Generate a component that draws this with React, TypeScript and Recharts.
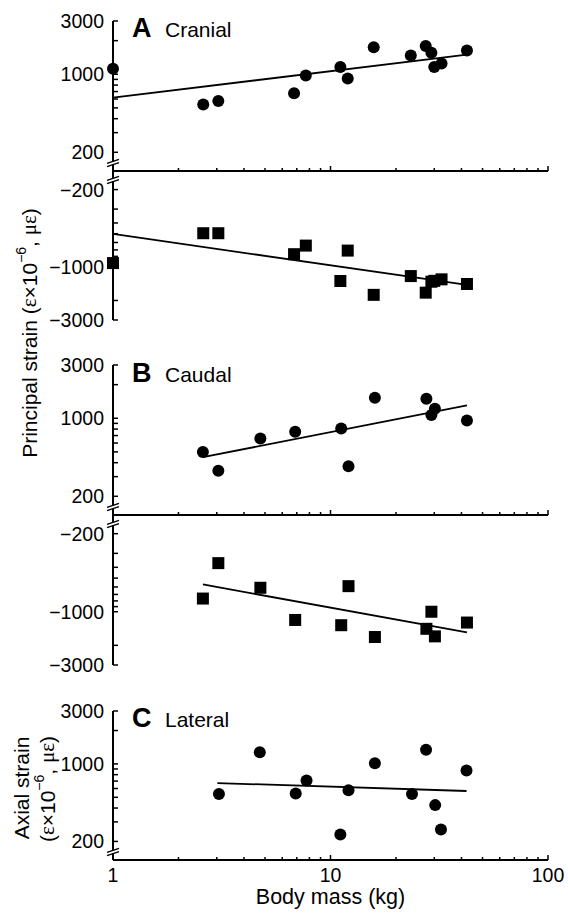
import React from "react";
import { ComposedChart, Line, Scatter, XAxis, YAxis } from "recharts";

// body mass (kg) of each animal, by recording site
const cranialMass = [1, 2.6, 3.05, 6.8, 7.7, 11.1, 12.0, 15.8, 23.4, 27.4, 29.1, 30.0, 32.4, 42.4];
const caudalMass = [2.59, 3.05, 4.76, 6.88, 11.2, 12.1, 16.0, 27.6, 29.1, 30.2, 42.4];
const lateralMass = [3.07, 4.73, 6.92, 7.76, 11.1, 12.1, 16.0, 23.7, 27.5, 30.3, 32.2, 42.2];

// principal strains (µε); compressive values are negative
const cranialTension = [1120, 535, 575, 675, 975, 1160, 915, 1750, 1470, 1790, 1555, 1160, 1250, 1630];
const cranialCompression = [-920, -495, -495, -765, -640, -1335, -710, -1780, -1205, -1700, -1355, -1330, -1290, -1420];
const caudalTension = [499, 339, 660, 756, 810, 372, 1525, 1495, 1071, 1218, 953];
const caudalCompression = [-762, -367, -610, -1185, -1320, -590, -1684, -1422, -1000, -1662, -1250];
// axial strain, lateral site
const lateralStrain = [536, 1271, 540, 710, 231, 578, 1014, 536, 1342, 425, 256, 872];

// regression lines, read at their two ends
const cranialFitMass = [1, 42.4];
const cranialTensionFit = [618, 1500];
const cranialCompressionFit = [-502, -1450];
const caudalFitMass = [2.59, 42.4];
const caudalTensionFit = [448, 1304];
const caudalCompressionFit = [-570, -1532];
const lateralFitMass = [3.02, 42.2];
const lateralFit = [672, 570];

// axis ticks
const massTicks = [1, 2, 3, 4, 5, 6, 7, 8, 9, 10, 20, 30, 40, 50, 60, 70, 80, 90, 100];
const massLabels = [1, 10, 100];
const strainTicks = [200, 300, 400, 500, 600, 700, 800, 900, 1000, 2000, 3000];
const strainLabels = [200, 1000, 3000];

const FONT = '"Liberation Sans", Arial, Helvetica, sans-serif';
const SERIF = '"Liberation Serif", "Times New Roman", serif';
const W = 568;
const X_LEFT = 113;
const X_RIGHT = 548;
const PAD = 12;
// value where the broken axis meets the x axis
const STRAIN_MIN = 136;
const STRAIN_MAX = 3000;

const toPoints = (xs: number[], ys: number[]) =>
  xs.map((x, i) => ({ x, y: Math.abs(ys[i]) }));

function AxisBreak({ x, y }: { x: number; y: number }) {
  // the "//" mark on the y axis
  return (
    <g>
      <polygon
        points={`${x - 6},${y + 3.6} ${x + 6},${y - 0.4} ${x + 6},${y - 3.6} ${x - 6},${y + 0.4}`}
        fill="#fff"
      />
      <line x1={x - 6} y1={y + 3.6} x2={x + 6} y2={y - 0.4} stroke="#000" strokeWidth={1.4} />
      <line x1={x - 6} y1={y + 0.4} x2={x + 6} y2={y - 3.6} stroke="#000" strokeWidth={1.4} />
    </g>
  );
}

function StrainTick(props: any) {
  const { x, y, payload, compressive } = props;
  const v = payload.value;
  if (v === STRAIN_MIN) {
    return <AxisBreak x={x} y={compressive ? y + 9 : y - 8} />;
  }
  return (
    <g>
      <line x1={x} x2={x + 5} y1={y} y2={y} stroke="#000" strokeWidth={1.5} />
      {strainLabels.includes(v) && (
        <text x={x - 9} y={y} dy="0.36em" textAnchor="end" fontSize={19.5} fill="#000">
          {compressive ? `\u2212${v}` : v}
        </text>
      )}
    </g>
  );
}

function MassTick(props: any) {
  const { x, y, payload, showLabel } = props;
  const v = payload.value;
  const major = massLabels.includes(v);
  return (
    <g>
      <line x1={x} x2={x} y1={y} y2={y - (major ? 5 : 3)} stroke="#000" strokeWidth={1.5} />
      {showLabel && major && (
        <text x={x} y={y + 22} textAnchor="middle" fontSize={19.5} fill="#000">
          {v}
        </text>
      )}
    </g>
  );
}

const Dot = (p: any) => <circle cx={p.cx} cy={p.cy} r={6} fill="#000" />;
const Square = (p: any) => (
  <rect x={p.cx - 6} y={p.cy - 6} width={12} height={12} fill="#000" />
);

interface PanelProps {
  top: number;
  plotHeight: number;
  mass: number[];
  strain: number[];
  fitMass: number[];
  fit: number[];
  compressive?: boolean;
  showAxis?: boolean;
  showMassLabels?: boolean;
  bottom: number;
}

function Panel({
  top,
  plotHeight,
  mass,
  strain,
  fitMass,
  fit,
  compressive = false,
  showAxis = false,
  showMassLabels = false,
  bottom,
}: PanelProps) {
  const points = toPoints(mass, strain);
  const fitLine = toPoints(fitMass, fit);
  return (
    <div style={{ position: "absolute", left: 0, top: top - PAD }}>
      <ComposedChart
        width={W}
        height={PAD + plotHeight + bottom}
        margin={{ top: PAD, right: W - X_RIGHT, left: 0, bottom: showAxis ? 0 : bottom }}
      >
        <XAxis
          dataKey="x"
          type="number"
          scale="log"
          domain={[1, 100]}
          ticks={massTicks}
          interval={0}
          hide={!showAxis}
          height={bottom}
          axisLine={{ stroke: "#000", strokeWidth: 2 }}
          tickLine={false}
          tickSize={0}
          tickMargin={0}
          tick={(p: any) => <MassTick {...p} showLabel={showMassLabels} />}
          label={
            showMassLabels
              ? { value: "Body mass (kg)", position: "insideBottom", offset: 8, fontSize: 21.5, fill: "#000" }
              : undefined
          }
        />
        <YAxis
          dataKey="y"
          type="number"
          scale="log"
          domain={[STRAIN_MIN, STRAIN_MAX]}
          ticks={[STRAIN_MIN, ...strainTicks]}
          interval={0}
          reversed={compressive}
          width={X_LEFT}
          axisLine={{ stroke: "#000", strokeWidth: 2 }}
          tickLine={false}
          tickSize={0}
          tickMargin={0}
          tick={(p: any) => <StrainTick {...p} compressive={compressive} />}
        />
        <Line
          data={fitLine}
          dataKey="y"
          type="linear"
          stroke="#000"
          strokeWidth={1.8}
          dot={false}
          activeDot={false}
          isAnimationActive={false}
        />
        <Scatter
          data={points}
          dataKey="y"
          shape={compressive ? Square : Dot}
          fill="#000"
          isAnimationActive={false}
        />
      </ComposedChart>
    </div>
  );
}

export default function App() {
  return (
    <div
      style={{
        position: "absolute",
        left: 0,
        top: 0,
        width: W,
        height: 913,
        background: "#fff",
        fontFamily: FONT,
      }}
    >
      <Panel top={21} plotHeight={150} mass={cranialMass} strain={cranialTension}
        fitMass={cranialFitMass} fit={cranialTensionFit} showAxis bottom={8} />
      <Panel top={171} plotHeight={149} mass={cranialMass} strain={cranialCompression}
        fitMass={cranialFitMass} fit={cranialCompressionFit} compressive bottom={16} />
      <Panel top={365} plotHeight={150} mass={caudalMass} strain={caudalTension}
        fitMass={caudalFitMass} fit={caudalTensionFit} showAxis bottom={8} />
      <Panel top={515} plotHeight={150} mass={caudalMass} strain={caudalCompression}
        fitMass={caudalFitMass} fit={caudalCompressionFit} compressive bottom={16} />
      <Panel top={711} plotHeight={149} mass={lateralMass} strain={lateralStrain}
        fitMass={lateralFitMass} fit={lateralFit} showAxis showMassLabels bottom={52} />

      <svg
        width={W}
        height={913}
        style={{ position: "absolute", left: 0, top: 0, pointerEvents: "none" }}
      >
        <text x={132} y={37} fontSize={27} fontWeight="bold">A</text>
        <text x={165} y={37} fontSize={21}>Cranial</text>
        <text x={132} y={382} fontSize={27} fontWeight="bold">B</text>
        <text x={165} y={382} fontSize={21}>Caudal</text>
        <text x={132} y={727} fontSize={27} fontWeight="bold">C</text>
        <text x={165} y={727} fontSize={21}>Lateral</text>

        <text x={29} y={333} transform="rotate(-90 29 333)" textAnchor="middle"
          dominantBaseline="central" fontSize={21}>
          Principal strain (<tspan fontFamily={SERIF}>ε</tspan>×10
          <tspan dy={-8} fontSize={14}>−6</tspan>
          <tspan dy={8}>, </tspan>
          <tspan fontFamily={SERIF}>με</tspan>)
        </text>
        <text x={21} y={788} transform="rotate(-90 21 788)" textAnchor="middle"
          dominantBaseline="central" fontSize={21}>
          Axial strain
        </text>
        <text x={47} y={789} transform="rotate(-90 47 789)" textAnchor="middle"
          dominantBaseline="central" fontSize={21}>
          (<tspan fontFamily={SERIF}>ε</tspan>×10
          <tspan dy={-8} fontSize={14}>−6</tspan>
          <tspan dy={8}>, </tspan>
          <tspan fontFamily={SERIF}>με</tspan>)
        </text>
      </svg>
    </div>
  );
}
